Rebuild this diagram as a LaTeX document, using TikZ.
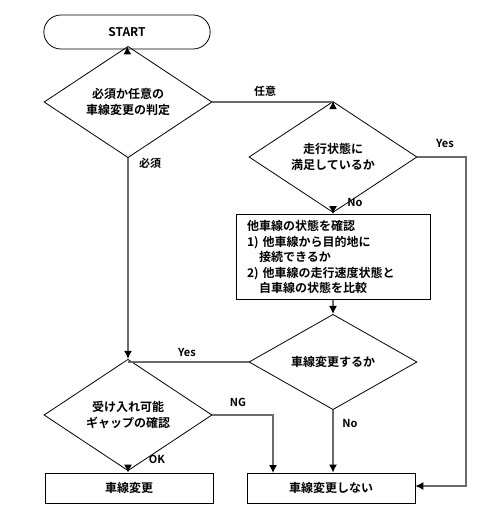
\documentclass[tikz,border=0pt]{standalone}
\usepackage{fontspec}
\setmainfont{Noto Sans CJK JP}[BoldFont={Noto Sans CJK JP Bold}]
\usetikzlibrary{shapes.geometric,shapes.misc,arrows.meta}

\begin{document}
\begin{tikzpicture}[x=1pt,y=-1pt,
	font=\bfseries\fontsize{12}{16}\selectfont,
	decision/.style={draw,line width=0.8pt,diamond,minimum width=168pt,minimum height=79pt,inner sep=0pt,align=center},
	process/.style={draw,line width=0.8pt,rectangle,minimum width=168pt,minimum height=30pt,inner sep=0pt},
	startstop/.style={draw,line width=0.8pt,rounded rectangle,minimum width=173pt,minimum height=34pt},
	line/.style={draw=black!58,line width=1.2pt},
	flow/.style={line,-{Latex[length=8pt,width=8pt,color=black]}},
	lab/.style={font=\bfseries\fontsize{11}{13}\selectfont}]
	\useasboundingbox (0,0) rectangle (500,514);
	% nodes
	\node[startstop] (S) at (127,32) {START};
	\node[decision] (D1) at (128,102) {必須か任意の\\車線変更の判定};
	\node[decision] (D2) at (333,157) {走行状態に\\満足しているか};
	\node[draw,line width=0.8pt,rectangle,minimum width=194pt,minimum height=85pt,inner sep=0pt,
		text width=172pt,align=left,font=\bfseries\fontsize{12}{15.5}\selectfont]
		(C) at (333,257) {他車線の状態を確認\\1) 他車線から目的地に\\\hspace*{1em}接続できるか\\2) 他車線の走行速度状態と\\\hspace*{1em}自車線の状態を比較};
	\node[decision] (D3) at (333,362) {車線変更するか};
	\node[decision] (D4) at (128,415) {受け入れ可能\\ギャップの確認};
	\node[process] (B1) at (129,488) {車線変更};
	\node[process] (B2) at (331,488) {車線変更しない};
	% connectors
	\coordinate (J) at (D1.south |- D3.west);
	\draw[flow] (S) -- (D1);
	\draw[flow] (D1.east) -- (D1.east -| D2.north) -- (D2.north);
	\draw[flow] (D1.south) -- (D4.north);
	\draw[flow] (D2.east) -- (466,157) -- (466,486) -- (B2.east |- 0,486);
	\draw[flow] (D2.south) -- (C.north |- D2.south) -- (C.north);
	\draw[flow] (C.south) -- (D3.north);
	\draw[line] (D3.west) -- (J);
	\draw[flow] (D4.east) -- (273,415) -- (273,473);
	\draw[flow] (D3.south) -- (D3.south |- B2.north);
	\draw[flow] (D4.south) -- (D4.south |- B1.north);
	% labels
	\node[lab] (l1) at (265,91) {任意};
	\node[lab] (l2) at (150,163) {必須};
	\node[lab] (l3) at (445,143) {Yes};
	\node[lab] (l4) at (355,202) {No};
	\node[lab] (l5) at (187,352) {Yes};
	\node[lab] (l6) at (238,402) {NG};
	\node[lab] (l7) at (157,459) {OK};
	\node[lab] (l8) at (350,423) {No};
\end{tikzpicture}
\end{document}
